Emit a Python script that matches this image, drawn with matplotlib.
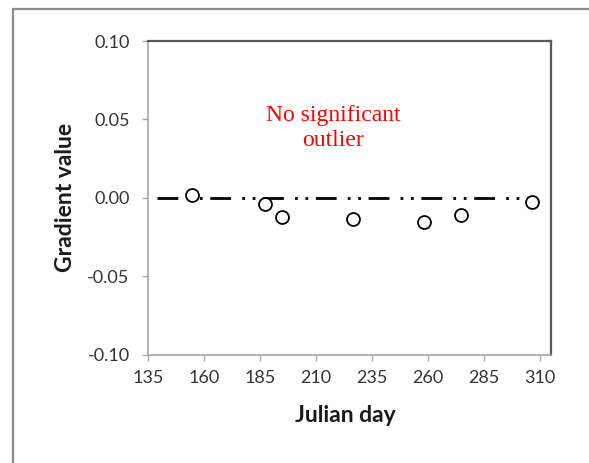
import numpy as np
import matplotlib.pyplot as plt
from matplotlib.patches import Rectangle

# data
julian_day = [154.6, 187.1, 195.0, 226.7, 258.3, 274.7, 306.8]
gradient = [0.0018, -0.0039, -0.0124, -0.0136, -0.0152, -0.0109, -0.0024]
ref_line_x = [139, 305]
ref_line_y = [0.0, 0.0]
x_ticks = [135, 160, 185, 210, 235, 260, 285, 310]
y_ticks = [-0.10, -0.05, 0.00, 0.05, 0.10]

fig = plt.figure(figsize=(5.89, 4.63), dpi=100)

# outer frame of the chart area
fig.patches.append(Rectangle((12.5 / 589, -0.1), 1.2, (463 - 8.5) / 463 + 0.1,
                             transform=fig.transFigure, fill=False,
                             edgecolor="#8c8c8c", linewidth=1.6, zorder=0))

ax = fig.add_axes([148 / 589, (463 - 354.7) / 463, (550.7 - 148) / 589, (354.7 - 41) / 463])

ax.plot(ref_line_x, ref_line_y, color="black", linewidth=2.0,
        dashes=(7.5, 4, 1, 2.75, 1, 2.75), zorder=2)
ax.plot(julian_day, gradient, linestyle="none", marker="o", markersize=9.3,
        markerfacecolor="white", markeredgecolor="black", markeredgewidth=1.3, zorder=3)

ax.set_xlim(135, 315)
ax.set_ylim(-0.10, 0.10)
ax.set_xticks(x_ticks)
ax.set_yticks(y_ticks)
ax.set_yticklabels([f"{v:.2f}" for v in y_ticks])

for side in ["left", "bottom"]:
    ax.spines[side].set_color("#a6a6a6")
    ax.spines[side].set_linewidth(1.2)
for side in ["top", "right"]:
    ax.spines[side].set_color("#595959")
    ax.spines[side].set_linewidth(1.6)

ax.tick_params(axis="both", direction="out", color="#a6a6a6", length=4.3, width=1.0,
               labelsize=13, labelcolor="#333333")
ax.tick_params(axis="y", pad=9)
ax.tick_params(axis="x", pad=7)
for lab in ax.get_xticklabels() + ax.get_yticklabels():
    lab.set_family("Lato")

ax.set_xlabel("Julian day", fontsize=16.5, fontweight="bold", family="Lato",
              color="#1a1a1a", va="center")
ax.set_ylabel("Gradient value", fontsize=16.5, fontweight="bold", family="Lato",
              color="#1a1a1a", va="center")
ax.xaxis.set_label_coords(0.489, -0.195)
ax.yaxis.set_label_coords(-0.206, 0.5)

ax.text(0.459, 0.724, "No significant\noutlier", transform=ax.transAxes,
        ha="center", va="center", color="red", fontsize=17,
        family="Liberation Serif", linespacing=1.25)

fig.savefig("out.png", dpi=100)
